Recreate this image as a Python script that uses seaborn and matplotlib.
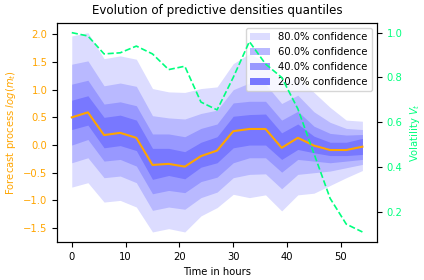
"""
Evolution of predictive densities quantiles (forecast bands + volatility)
"""
import matplotlib
matplotlib.use("Agg")
import matplotlib.pyplot as plt
import seaborn as sns
import pandas as pd

# time steps (hours)
hours = [0, 3, 6, 9, 12, 15, 18, 21, 24, 27, 30, 33, 36, 39, 42, 45, 48, 51, 54]

# median of the forecast process log(m_t)
median = [0.50, 0.59, 0.18, 0.22, 0.13, -0.36, -0.34, -0.39, -0.20, -0.10,
          0.25, 0.29, 0.29, -0.05, 0.13, -0.01, -0.09, -0.09, -0.03]

# quantile band bounds
upper_80 = [1.97, 2.03, 1.56, 1.61, 1.55, 1.02, 0.96, 0.95, 1.02, 1.05,
            1.47, 1.65, 1.50, 1.15, 1.20, 0.95, 0.68, 0.45, 0.43]
upper_60 = [1.46, 1.52, 1.07, 1.12, 1.06, 0.53, 0.49, 0.47, 0.57, 0.63,
            1.00, 1.12, 1.10, 0.75, 0.90, 0.60, 0.41, 0.30, 0.28]
upper_40 = [1.10, 1.17, 0.74, 0.78, 0.71, 0.20, 0.20, 0.15, 0.30, 0.38,
            0.76, 0.79, 0.79, 0.45, 0.61, 0.34, 0.21, 0.18, 0.19]
upper_20 = [0.81, 0.89, 0.50, 0.54, 0.45, -0.06, -0.06, -0.12, 0.05, 0.15,
            0.52, 0.55, 0.56, 0.22, 0.38, 0.16, 0.05, 0.05, 0.12]
lower_20 = [0.28, 0.36, -0.05, -0.01, -0.10, -0.62, -0.55, -0.61, -0.40, -0.32,
            -0.05, 0.00, 0.00, -0.26, -0.08, -0.14, -0.19, -0.19, -0.17]
lower_40 = [0.00, 0.10, -0.29, -0.26, -0.38, -0.88, -0.82, -0.86, -0.66, -0.58,
            -0.32, -0.23, -0.23, -0.49, -0.26, -0.29, -0.32, -0.29, -0.26]
lower_60 = [-0.32, -0.23, -0.59, -0.56, -0.68, -1.18, -1.12, -1.16, -0.95, -0.85,
            -0.59, -0.53, -0.52, -0.79, -0.53, -0.50, -0.47, -0.41, -0.35]
lower_80 = [-0.76, -0.68, -1.03, -1.00, -1.12, -1.57, -1.51, -1.57, -1.28, -1.13,
            -0.89, -0.95, -0.90, -1.19, -0.90, -0.87, -0.73, -0.59, -0.46]

# volatility V_t
volatility = [1.00, 0.985, 0.905, 0.91, 0.94, 0.905, 0.835, 0.85, 0.69, 0.655,
              0.80, 0.96, 0.86, 0.80, 0.66, 0.46, 0.26, 0.145, 0.11]

band_labels = ["80.0% confidence", "60.0% confidence", "40.0% confidence", "20.0% confidence"]
band_colors = ["#dcdcff", "#b9b9ff", "#9898ff", "#7878ff"]


def make_plot():
    plt.rcParams["font.family"] = ["DejaVu Sans"]
    plt.rcParams["font.size"] = 7.2

    df = pd.DataFrame({"hours": hours, "median": median, "vol": volatility})

    fig, ax = plt.subplots(figsize=(4.24, 2.8), dpi=100)
    fig.subplots_adjust(left=0.135, right=0.889, top=0.919, bottom=0.136)

    bands = [(lower_80, upper_80), (lower_60, upper_60),
             (lower_40, upper_40), (lower_20, upper_20)]
    for (lo, hi), lab, col in zip(bands, band_labels, band_colors):
        ax.fill_between(hours, lo, hi, color=col, lw=0, label=lab)

    sns.lineplot(data=df, x="hours", y="median", color="orange", lw=1.5, ax=ax)
    ax.set_xlabel("Time in hours")
    ax.set_ylabel("Forecast process $log(m_t)$", color="orange")
    ax.tick_params(axis="y", labelcolor="orange")
    ax.set_title("Evolution of predictive densities quantiles", fontsize=8.6)
    ax.legend(loc="upper right", fontsize=7.2)

    ax2 = ax.twinx()
    sns.lineplot(data=df, x="hours", y="vol", color="springgreen", lw=1.2,
                 linestyle="--", ax=ax2)
    ax2.set_ylabel("Volatility $V_t$", color="springgreen")
    ax2.tick_params(axis="y", labelcolor="springgreen")
    ax2.set_yticks([0.2, 0.4, 0.6, 0.8, 1.0])

    fig.savefig("out.png", dpi=100)


if __name__ == "__main__":
    make_plot()
